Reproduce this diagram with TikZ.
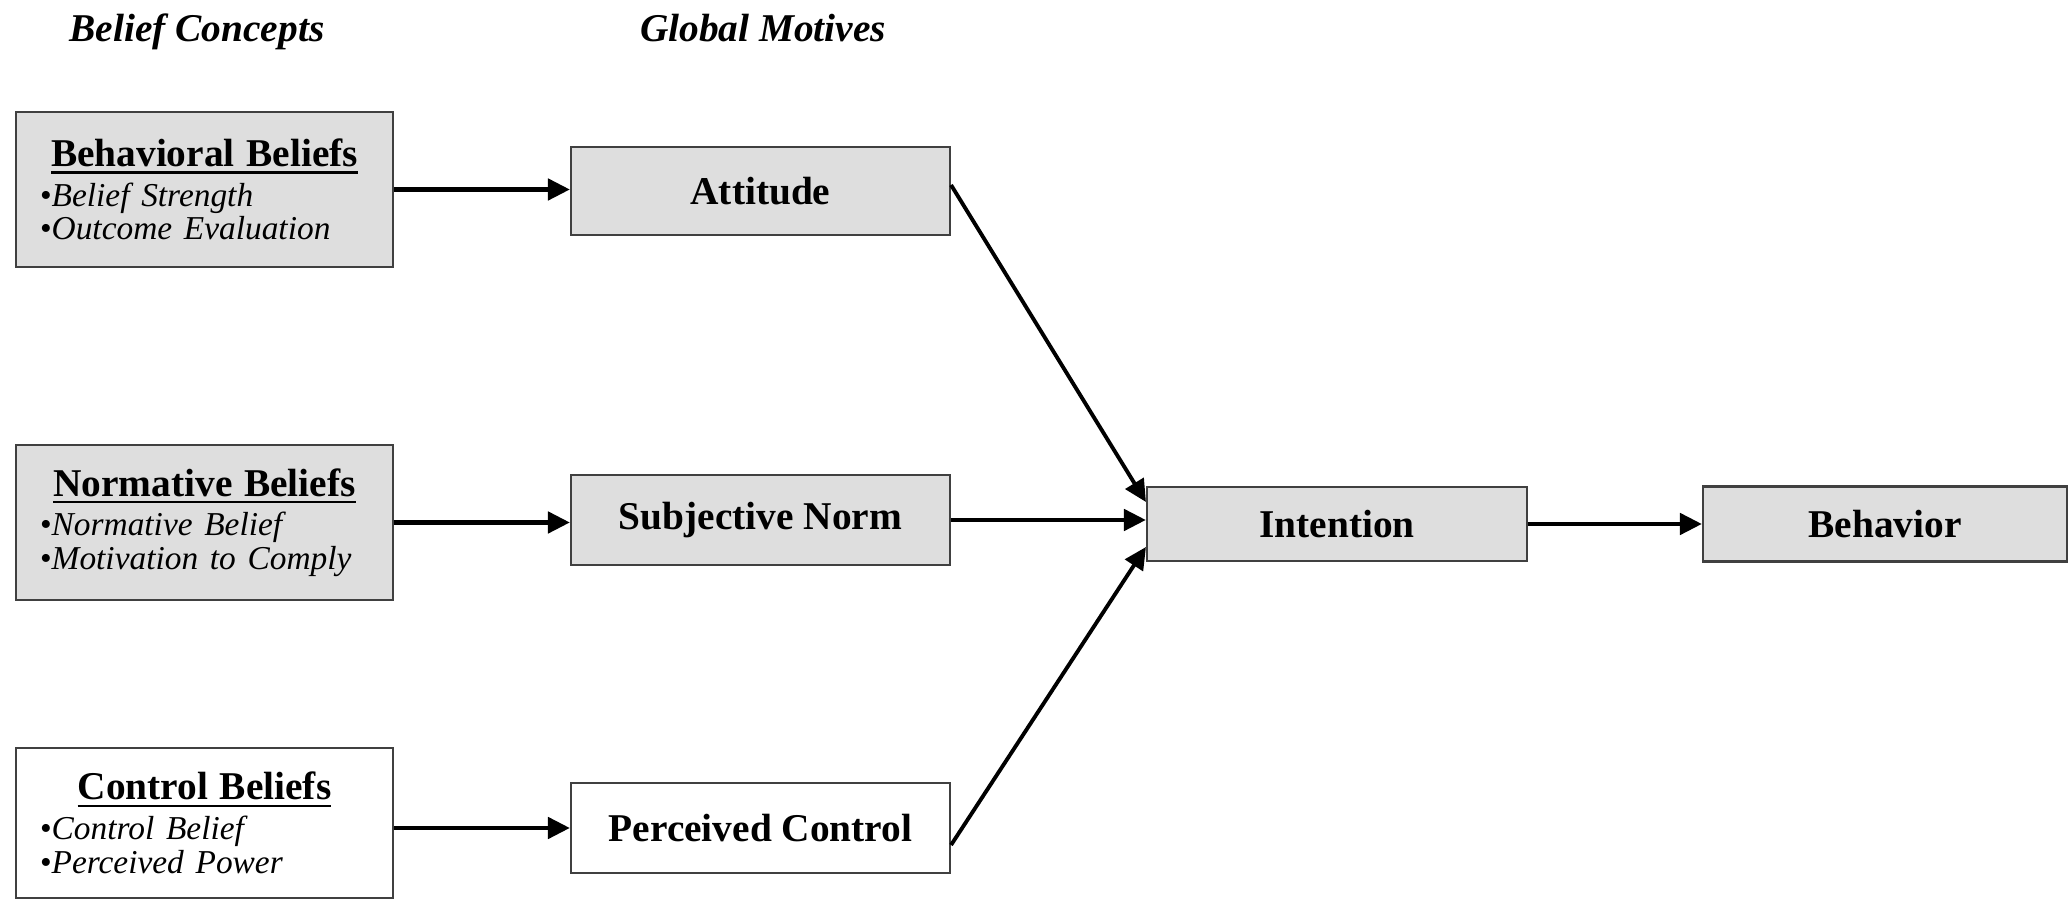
\documentclass[tikz,border=0pt]{standalone}
\usepackage{fontspec}
\setmainfont{Liberation Serif}
\usetikzlibrary{arrows.meta}
\definecolor{boxgray}{gray}{0.87}
\newcommand{\beliefhead}[1]{{\centering\fontsize{11.2}{11.2}\selectfont\bfseries
  \setbox0\hbox{#1}\leavevmode\rlap{\rule[-2.1pt]{\wd0}{0.7pt}}\box0\par}\vspace{1.7pt}}
\newcommand{\beliefitem}[1]{{\raggedright\fontsize{9.5}{9.6}\selectfont\textbullet\textit{#1}\par}}
\tikzset{
  belief box/.style={
    draw=black!75, line width=0.6pt,
    text width=32.9mm, inner xsep=2.4mm, inner ysep=0pt,
    minimum height=15.5mm
  },
  motive box/.style={
    draw=black!75, line width=0.6pt,
    minimum width=37.9mm, minimum height=8.8mm, inner sep=0pt,
    font=\fontsize{11.2}{13}\selectfont\bfseries
  },
  column title/.style={
    anchor=base, inner sep=0pt,
    font=\fontsize{11.2}{13}\selectfont\bfseries\itshape
  },
  link arrow/.style={
    -{Triangle[length=2.2mm,width=2.1mm]}, line width=1.35pt
  }
}

\begin{document}
\begin{tikzpicture}[x=0.1mm,y=-0.1mm]
\useasboundingbox (0,0) rectangle (2070,901);
% column titles
\node[column title] (bcon) at (197,42) {Belief Concepts};
\node[column title] (gmot) at (763,42) {Global Motives};
% belief concepts
\node[belief box, fill=boxgray] (beh) at (204.5,189.5)
  {\beliefhead{Behavioral Beliefs}\beliefitem{Belief Strength}\beliefitem{Outcome Evaluation}};
\node[belief box, fill=boxgray] (nor) at (204.5,522.5)
  {\beliefhead{Normative Beliefs}\beliefitem{Normative Belief}\beliefitem{Motivation to Comply}};
\node[belief box, minimum height=15mm] (con) at (204.5,823)
  {\beliefhead{Control Beliefs}\beliefitem{Control Belief}\beliefitem{Perceived Power}};
% global motives
\node[motive box, fill=boxgray] (att) at (760.5,191) {Attitude};
\node[motive box, fill=boxgray, minimum height=9mm] (sub) at (760.5,520) {Subjective Norm};
\node[motive box, minimum height=9mm] (per) at (760.5,828) {Perceived Control};
% intention and behavior
\node[motive box, fill=boxgray, minimum width=38mm, minimum height=7.4mm] (int) at (1337,524) {Intention};
\node[motive box, fill=boxgray, minimum width=36.4mm, minimum height=7.5mm] (bev) at (1885,524) {Behavior};
% links
\draw[link arrow] (beh.east) -- (beh.east -| att.west);
\draw[link arrow] (nor.east) -- (nor.east -| sub.west);
\draw[link arrow] (per.west -| con.east) -- (per.west);
\draw[link arrow, line width=1.1pt] ([yshift=0.6mm]att.east) -- ([yshift=2.2mm]int.west);
\draw[link arrow] (sub.east) -- (sub.east -| int.west);
\draw[link arrow, line width=1.1pt] ([yshift=-1.7mm]per.east) -- ([yshift=-2.3mm]int.west);
\draw[link arrow] (int.east) -- (bev.west);
\end{tikzpicture}
\end{document}
